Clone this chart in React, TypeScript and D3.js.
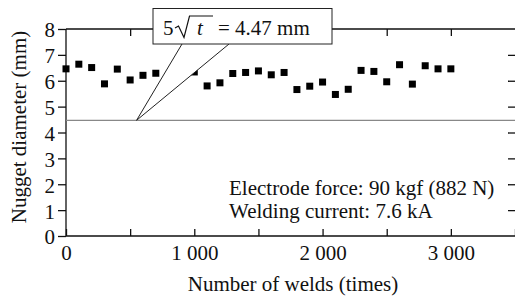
import React, { useRef, useEffect } from 'react';
import * as d3 from 'd3';

// weld count (times) and nugget diameter (mm); 800 and 900 sit under the callout
const welds = [0, 100, 200, 300, 400, 500, 600, 700, 1000, 1100, 1200, 1300, 1400, 1500,
  1600, 1700, 1800, 1900, 2000, 2100, 2200, 2300, 2400, 2500, 2600, 2700, 2800, 2900, 3000];
const diameters = [6.46, 6.64, 6.51, 5.88, 6.45, 6.03, 6.21, 6.29, 6.34, 5.80, 5.92, 6.28, 6.32, 6.38,
  6.23, 6.32, 5.66, 5.79, 5.95, 5.47, 5.67, 6.40, 6.36, 5.96, 6.62, 5.87, 6.58, 6.46, 6.46];

const xTicks = [0, 500, 1000, 1500, 2000, 2500, 3000, 3500];
const xLabels = [0, 1000, 2000, 3000];
const yTicks = [0, 1, 2, 3, 4, 5, 6, 7, 8];

const limitValue = 4.47; // 5 * sqrt(t)
const conditions = ['Electrode force: 90 kgf (882 N)', 'Welding current: 7.6 kA'];

const App = () => {
  const ref = useRef(null);

  var width = 515;
  var height = 299;
  var left = 66, top = 29, right = 515, bottom = 236;
  var font = '"Liberation Serif", "Times New Roman", serif';
  var fs = 21;

  useEffect(() => {
    d3.select(ref.current).selectAll('*').remove();

    var svg = d3.select(ref.current);

    var x = d3.scaleLinear().domain([0, 3500]).range([left, right]);
    var y = d3.scaleLinear().domain([0, 8]).range([bottom, top]);
    var fmt = d3.format(',');
    var fmtSp = (d) => fmt(d).replace(',', ' ');

    var g = svg.append('g').attr('font-family', font);

    // frame
    g.append('path')
      .attr('d', `M${left},${top}H${right}M${left},${top}V${bottom}H${right}`)
      .attr('fill', 'none').attr('stroke', '#111').attr('stroke-width', 1.3);

    // bottom axis: ticks pointing in, labels every 1000
    var bottomAxis = d3.axisBottom(x).tickValues(xTicks).tickSizeInner(-7).tickSizeOuter(0)
      .tickFormat((d) => (xLabels.includes(d) ? fmtSp(d) : ''));
    var gb = g.append('g').attr('transform', `translate(0,${bottom})`).call(bottomAxis);
    gb.select('.domain').remove();
    gb.selectAll('line').attr('stroke', '#111').attr('stroke-width', 1.3);
    gb.selectAll('text').attr('font-family', font).attr('font-size', fs).attr('fill', '#111')
      .attr('dy', 0).attr('y', 24);

    // top axis ticks
    var gt = g.append('g').attr('transform', `translate(0,${top})`)
      .call(d3.axisTop(x).tickValues(xTicks.slice(1, -1)).tickSizeInner(-7).tickSizeOuter(0).tickFormat(() => ''));
    gt.select('.domain').remove();
    gt.selectAll('line').attr('stroke', '#111').attr('stroke-width', 1.3);

    // left axis: ticks outward
    var gl = g.append('g').attr('transform', `translate(${left},0)`)
      .call(d3.axisLeft(y).tickValues(yTicks).tickSizeInner(8).tickSizeOuter(0).tickPadding(3));
    gl.select('.domain').remove();
    gl.selectAll('line').attr('stroke', '#111').attr('stroke-width', 1.3);
    gl.selectAll('text').attr('font-family', font).attr('font-size', fs).attr('fill', '#111').attr('dy', '0.38em');

    // right axis ticks pointing in
    var gr = g.append('g').attr('transform', `translate(${right},0)`)
      .call(d3.axisRight(y).tickValues(yTicks.slice(1, -1)).tickSizeInner(-7).tickSizeOuter(0).tickFormat(() => ''));
    gr.select('.domain').remove();
    gr.selectAll('line').attr('stroke', '#111').attr('stroke-width', 1.3);

    // limit line
    g.append('line')
      .attr('x1', left).attr('x2', right)
      .attr('y1', y(limitValue)).attr('y2', y(limitValue))
      .attr('stroke', '#888').attr('stroke-width', 1.4);

    // points
    var s = 7;
    g.append('g').selectAll('rect')
      .data(welds)
      .enter().append('rect')
      .attr('x', (d) => x(d) - s / 2)
      .attr('y', (d, i) => y(diameters[i]) - s / 2)
      .attr('width', s).attr('height', s)
      .attr('fill', '#000');

    // callout
    var ax = x(550), ay = y(limitValue);
    g.append('path')
      .attr('d', `M182,44L${ax},${ay}L229,44`)
      .attr('fill', '#fff').attr('stroke', '#222').attr('stroke-width', 1);
    g.append('rect')
      .attr('x', 153).attr('y', 8.5).attr('width', 179).attr('height', 35.5)
      .attr('fill', '#fff').attr('stroke', '#222').attr('stroke-width', 1);
    var ct = g.append('g').attr('font-size', fs).attr('fill', '#111');
    ct.append('text').attr('x', 163).attr('y', 35).text('5');
    ct.append('path')
      .attr('d', 'M175,28L178.5,26L184,37.5L189.5,16H213')
      .attr('fill', 'none').attr('stroke', '#111').attr('stroke-width', 1.2);
    ct.append('text').attr('x', 197).attr('y', 35).attr('font-style', 'italic').text('t');
    ct.append('text').attr('x', 218).attr('y', 35).text('= 4.47 mm');

    // conditions
    g.append('g').selectAll('text')
      .data(conditions)
      .enter().append('text')
      .attr('x', 229).attr('y', (d, i) => 195 + i * 23)
      .attr('font-size', fs).attr('fill', '#111')
      .text((d) => d);

    // axis titles
    g.append('text')
      .attr('x', 293).attr('y', 291).attr('text-anchor', 'middle')
      .attr('font-size', fs).attr('fill', '#111')
      .text('Number of welds (times)');
    g.append('text')
      .attr('transform', 'translate(26,127) rotate(-90)').attr('text-anchor', 'middle')
      .attr('font-size', fs).attr('fill', '#111')
      .text('Nugget diameter (mm)');
  }, []);

  return (
    <svg ref={ref} width={width} height={height}
      style={{ position: 'absolute', left: 0, top: 0, background: '#fff' }} />
  );
};

export default App;
